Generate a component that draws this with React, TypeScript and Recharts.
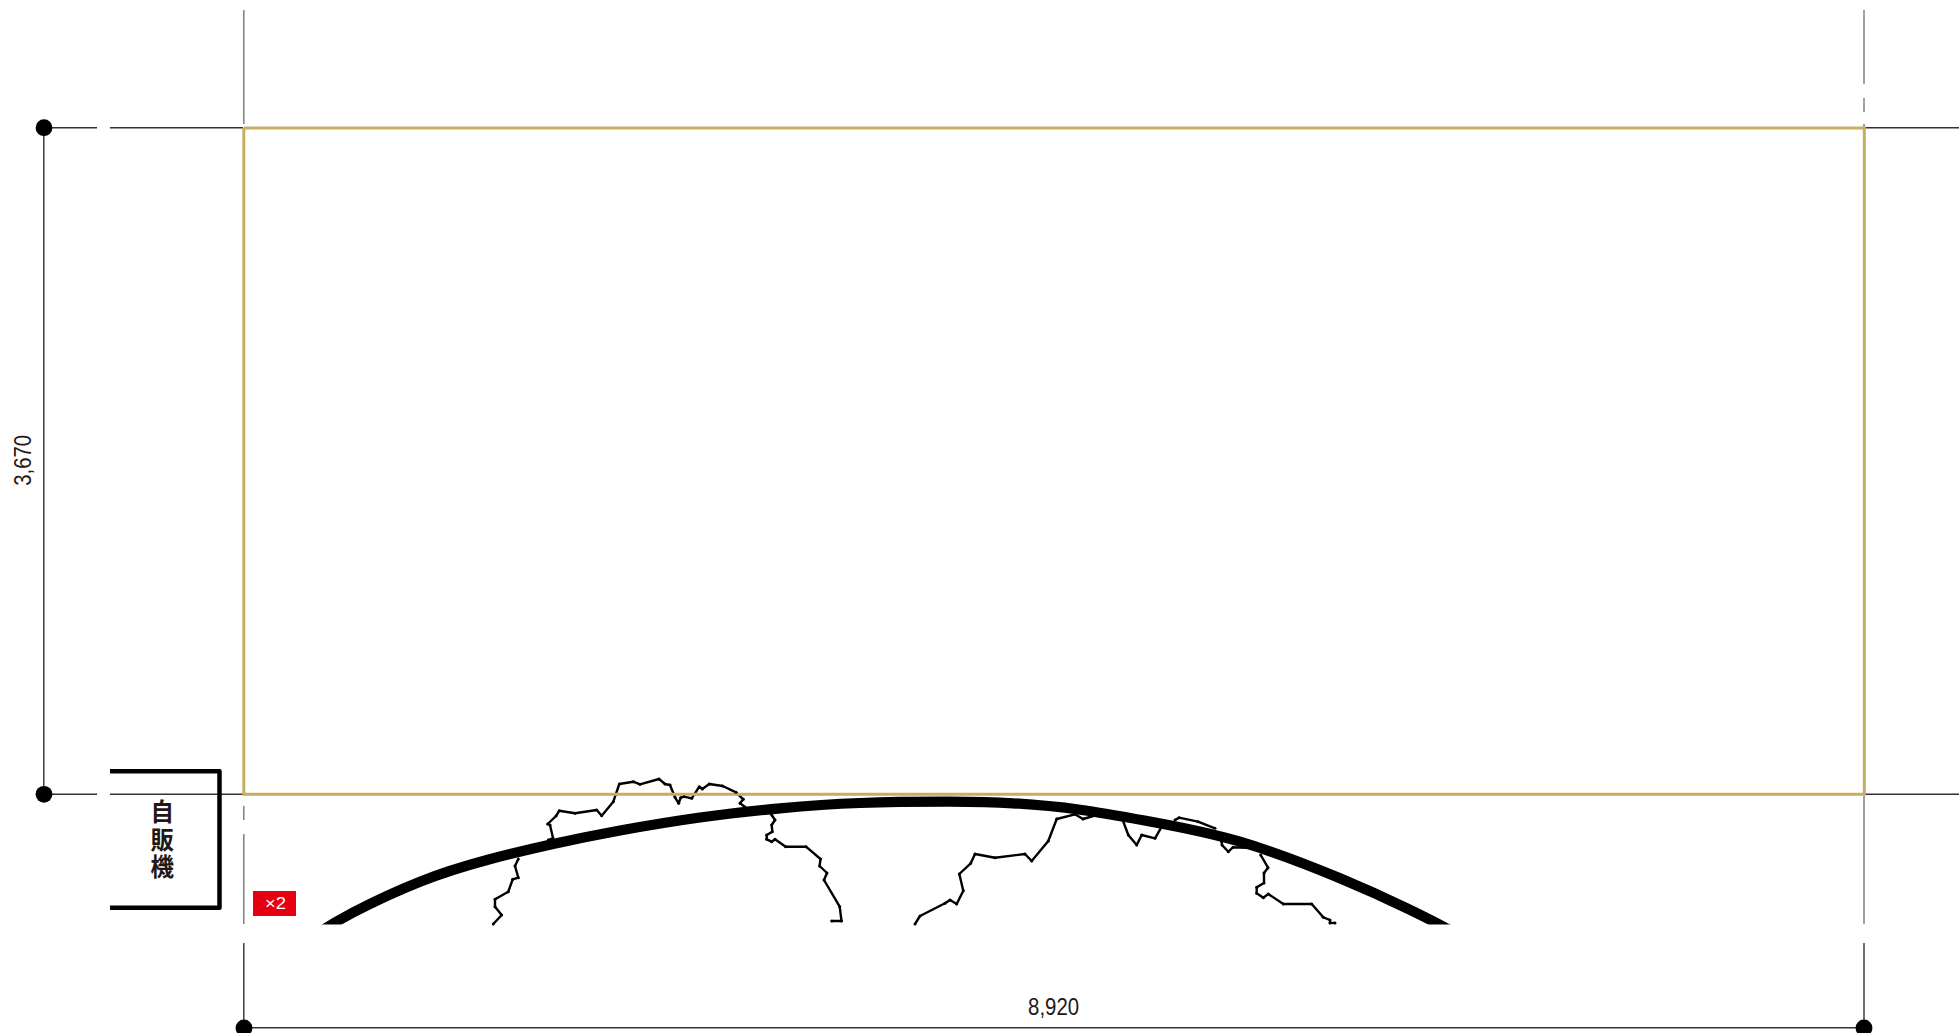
import { LineChart, Line, XAxis, YAxis, ReferenceArea, ReferenceDot } from 'recharts';

const WIDTH = 1959;
const HEIGHT = 1033;

const INK = '#231815';
const GOLD = '#c5ae62';

// plan outline
const roomOutline = [
  { x: 243.8, y: 127.9 },
  { x: 1864.3, y: 127.9 },
  { x: 1864.3, y: 794.3 },
  { x: 243.8, y: 794.3 },
  { x: 243.8, y: 127.9 },
];

// dimension lines, dark ones
const darkSegments = [
  [{ x: 44, y: 127.7 }, { x: 97, y: 127.7 }],
  [{ x: 110, y: 127.7 }, { x: 243, y: 127.7 }],
  [{ x: 1865, y: 127.7 }, { x: 1959, y: 127.7 }],
  [{ x: 44, y: 794.3 }, { x: 97, y: 794.3 }],
  [{ x: 110, y: 794.3 }, { x: 243, y: 794.3 }],
  [{ x: 1865, y: 794.3 }, { x: 1959, y: 794.3 }],
  [{ x: 244, y: 1027.7 }, { x: 1864, y: 1027.7 }],
  [{ x: 43.8, y: 128 }, { x: 43.8, y: 794 }],
  [{ x: 243.8, y: 943 }, { x: 243.8, y: 1028 }],
  [{ x: 1864, y: 943 }, { x: 1864, y: 1028 }],
];

// extension lines, lighter
const greySegments = [
  [{ x: 243.8, y: 10 }, { x: 243.8, y: 124 }],
  [{ x: 243.8, y: 806 }, { x: 243.8, y: 820 }],
  [{ x: 243.8, y: 834 }, { x: 243.8, y: 924 }],
  [{ x: 1864, y: 10 }, { x: 1864, y: 84 }],
  [{ x: 1864, y: 98 }, { x: 1864, y: 112 }],
  [{ x: 1864, y: 124 }, { x: 1864, y: 128 }],
  [{ x: 1864, y: 796 }, { x: 1864, y: 924 }],
];

const endDots = [
  { x: 44, y: 127.7 },
  { x: 44, y: 794.3 },
  { x: 244, y: 1028 },
  { x: 1864, y: 1028 },
];

const vendingBox = [
  { x: 110, y: 771.3 },
  { x: 219.5, y: 771.3 },
  { x: 219.5, y: 907.7 },
  { x: 110, y: 907.7 },
];

const stageArc = [
  { x: 318, y: 933 }, { x: 353, y: 912.5 }, { x: 420, y: 881.7 }, { x: 487, y: 860 },
  { x: 553, y: 844 }, { x: 620, y: 830.5 }, { x: 700, y: 817.5 }, { x: 780, y: 808.3 },
  { x: 860, y: 803 }, { x: 950, y: 801.7 }, { x: 1013, y: 803.3 }, { x: 1080, y: 809.7 },
  { x: 1150, y: 821.5 }, { x: 1240, y: 841.7 }, { x: 1340, y: 878.3 }, { x: 1407, y: 908.3 },
  { x: 1437, y: 923.3 }, { x: 1456, y: 933.5 },
];

const coastA1 = [
  { x: 493.3, y: 924 }, { x: 501.7, y: 915 }, { x: 495, y: 906.7 }, { x: 495, y: 899.3 },
  { x: 508.3, y: 891.7 }, { x: 512.7, y: 879.3 }, { x: 518.3, y: 877.7 }, { x: 515, y: 866 },
  { x: 518.3, y: 859 },
];
const coastA2 = [
  { x: 548.3, y: 840 }, { x: 553, y: 838 }, { x: 550, y: 825 }, { x: 547.7, y: 824 }, { x: 556, y: 816 },
  { x: 559.3, y: 810.7 }, { x: 575, y: 813.3 }, { x: 596.7, y: 810 }, { x: 601.7, y: 815.7 },
  { x: 613.3, y: 801.7 }, { x: 619.3, y: 784 }, { x: 633.3, y: 781.7 }, { x: 640, y: 784.3 },
  { x: 659, y: 779 }, { x: 665, y: 784 }, { x: 670, y: 785 }, { x: 675, y: 797.3 },
  { x: 678.7, y: 803.3 }, { x: 680.7, y: 797.7 }, { x: 684, y: 796.7 }, { x: 691.7, y: 798.3 },
  { x: 699.3, y: 786.7 }, { x: 702.3, y: 789 }, { x: 709.3, y: 784 }, { x: 722.7, y: 786 },
  { x: 736, y: 792.3 }, { x: 743.3, y: 799.3 }, { x: 740, y: 803.3 }, { x: 745, y: 807 },
];
const coastA3 = [
  { x: 771.7, y: 815 }, { x: 775, y: 820 }, { x: 771.7, y: 825 }, { x: 772.3, y: 831.7 },
  { x: 766.7, y: 835 }, { x: 766.7, y: 839.3 }, { x: 771.7, y: 841.7 }, { x: 775, y: 839.3 },
  { x: 785.7, y: 846.7 }, { x: 806, y: 846.7 }, { x: 820.5, y: 859 }, { x: 819.6, y: 866 },
  { x: 827, y: 873 }, { x: 824, y: 880 }, { x: 839.7, y: 906.7 }, { x: 841.5, y: 921 },
  { x: 831.7, y: 921 },
];
const coastB1 = [
  { x: 915, y: 924 }, { x: 920, y: 916 }, { x: 945, y: 903.3 }, { x: 950, y: 900 },
  { x: 956.7, y: 904 }, { x: 963.3, y: 890.7 }, { x: 959.3, y: 874 }, { x: 970.7, y: 863.3 },
  { x: 975, y: 854 }, { x: 995, y: 857.7 }, { x: 1025, y: 854 }, { x: 1031.7, y: 861 },
  { x: 1048.3, y: 841 }, { x: 1056.7, y: 819 }, { x: 1075, y: 814.3 }, { x: 1083, y: 819 },
  { x: 1096.7, y: 815 },
];
const coastB2 = [
  { x: 1122.7, y: 820 }, { x: 1128.3, y: 835 }, { x: 1136.7, y: 845 }, { x: 1141.7, y: 835 },
  { x: 1155, y: 838.3 }, { x: 1161.7, y: 826.7 },
];
const coastB3 = [
  { x: 1175, y: 820 }, { x: 1179, y: 817.7 }, { x: 1198, y: 821.7 }, { x: 1215, y: 828.3 },
];
const coastB4 = [
  { x: 1221.7, y: 841.7 }, { x: 1222, y: 845 }, { x: 1228.3, y: 851.7 }, { x: 1233, y: 847.3 },
  { x: 1253, y: 848 },
];
const coastB5 = [
  { x: 1260.7, y: 855 }, { x: 1268, y: 867.7 }, { x: 1264, y: 873 }, { x: 1264, y: 883 },
  { x: 1256.7, y: 887.3 }, { x: 1256.7, y: 893.3 }, { x: 1263.3, y: 897.7 }, { x: 1268.3, y: 894 },
  { x: 1283.3, y: 904 }, { x: 1311.7, y: 904 }, { x: 1323.3, y: 917.3 }, { x: 1330, y: 920 },
  { x: 1330, y: 923 }, { x: 1335, y: 923 },
];
const coastLines = [coastA1, coastA2, coastA3, coastB1, coastB2, coastB3, coastB4, coastB5];

// white band that cuts the drawing
const cutBand = [{ x: 0, y: 934 }, { x: WIDTH, y: 934 }];

const vendingLabel = '自販機';

const badge = { x1: 253, x2: 296, y1: 891, y2: 916 };

// no narrow font is installed, so the length is forced
function NarrowText({ cx, cy, text, size, length, fill, rotate }: any) {
  return (
    <text
      x={cx}
      y={cy}
      textAnchor="middle"
      dominantBaseline="central"
      fontFamily="'Liberation Sans', sans-serif"
      fontSize={size}
      fill={fill}
      textLength={length}
      lengthAdjust="spacingAndGlyphs"
      transform={rotate ? `rotate(${rotate} ${cx} ${cy})` : undefined}
    >
      {text}
    </text>
  );
}

function VendingLabel({ cx, cy }: any) {
  return (
    <text
      transform={`translate(${cx} ${cy}) scale(0.92 1)`}
      fontFamily="'Noto Sans CJK JP', sans-serif"
      fontWeight={700}
      fontSize={25.5}
      fill={INK}
      style={{ writingMode: 'vertical-rl', letterSpacing: 1.7 }}
    >
      {vendingLabel}
    </text>
  );
}

export default function App() {
  return (
    <div style={{ position: 'absolute', left: 0, top: 0, width: WIDTH, height: HEIGHT, background: '#fff' }}>
      <LineChart width={WIDTH} height={HEIGHT} margin={{ top: 0, right: 0, bottom: 0, left: 0 }}>
        <XAxis type="number" dataKey="x" domain={[0, WIDTH]} hide />
        <YAxis type="number" domain={[0, HEIGHT]} reversed hide />

        {coastLines.map((pts, i) => (
          <Line key={`coast-${i}`} data={pts} dataKey="y" type="linear" stroke="#000" strokeWidth={2.4}
            strokeLinejoin="round" dot={{ r: 1.5, fill: '#000', stroke: 'none' }} isAnimationActive={false} />
        ))}
        <Line data={stageArc} dataKey="y" type="natural" stroke="#000" strokeWidth={10.2}
          dot={false} isAnimationActive={false} />
        <Line data={cutBand} dataKey="y" type="linear" stroke="#fff" strokeWidth={19}
          dot={false} isAnimationActive={false} />

        {greySegments.map((pts, i) => (
          <Line key={`grey-${i}`} data={pts} dataKey="y" type="linear" stroke="#777" strokeWidth={1.4}
            dot={false} isAnimationActive={false} />
        ))}
        {darkSegments.map((pts, i) => (
          <Line key={`dark-${i}`} data={pts} dataKey="y" type="linear" stroke="#333" strokeWidth={1.4}
            dot={false} isAnimationActive={false} />
        ))}
        <Line data={vendingBox} dataKey="y" type="linear" stroke="#000" strokeWidth={4.5}
          strokeLinejoin="round" dot={false} isAnimationActive={false} />
        <Line data={roomOutline} dataKey="y" type="linear" stroke={GOLD} strokeWidth={3}
          dot={false} isAnimationActive={false} />
        {endDots.map((p, i) => (
          <Line key={`end-${i}`} data={[p]} dataKey="y" stroke="none" isAnimationActive={false}
            dot={{ r: 8.4, fill: '#000', stroke: 'none' }} />
        ))}

        <ReferenceArea {...badge} fill="#e60012" fillOpacity={1} stroke="none" ifOverflow="visible" />
        <ReferenceDot x={275.5} y={903.7} r={0} ifOverflow="visible"
          shape={(p: any) => <NarrowText {...p} text="×2" size={17} length={21} fill="#fff" />} />
        <ReferenceDot x={1053.6} y={1006.7} r={0} ifOverflow="visible"
          shape={(p: any) => <NarrowText {...p} text="8,920" size={24} length={51} fill={INK} />} />
        <ReferenceDot x={22.5} y={460.3} r={0} ifOverflow="visible"
          shape={(p: any) => <NarrowText {...p} text="3,670" size={24} length={51} fill={INK} rotate={-90} />} />
        <ReferenceDot x={162.3} y={799} r={0} ifOverflow="visible" shape={(p: any) => <VendingLabel {...p} />} />
      </LineChart>
    </div>
  );
}
